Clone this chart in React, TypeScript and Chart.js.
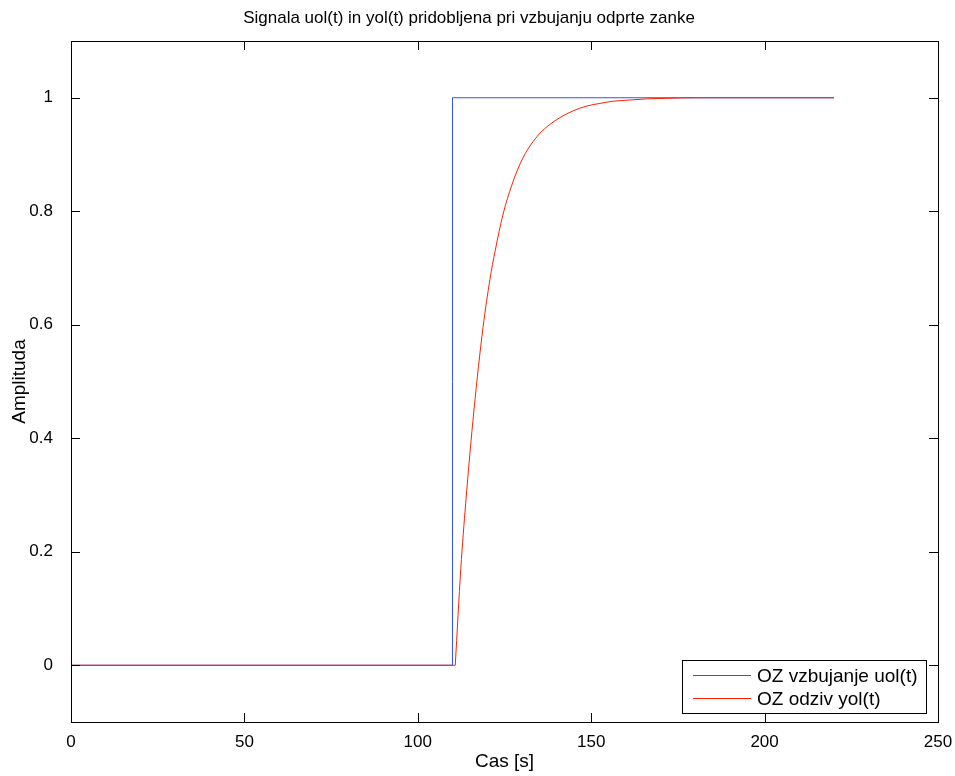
import React, { useEffect, useRef } from "react";
import { Chart, registerables } from "chart.js";

Chart.register(...registerables);

// ---- data ----
const titleText = "Signala uol(t) in yol(t) pridobljena pri vzbujanju odprte zanke";
const xLabel = "Cas [s]";
const yLabel = "Amplituda";

const xTicks = [0, 50, 100, 150, 200, 250];
const yTicks = [0, 0.2, 0.4, 0.6, 0.8, 1];
const xMin = 0, xMax = 250, yMin = -0.1, yMax = 1.1;

// excitation (step)
const uolLabel = "OZ vzbujanje uol(t)";
const uolT = [0, 110, 110, 220];
const uolY = [0, 0, 1, 1];

// response: flat part before delay, then rising curve
const yolLabel = "OZ odziv yol(t)";
const yolFlatT = [0, 110.8];
const yolFlatY = [0, 0];
const yolT = [110.8, 112.4, 113.8, 116.2, 118.8, 120.8, 122.3, 124.6, 127.1, 130.4, 135, 138.1, 141, 144.8, 148.5, 152.5, 156.5, 161.2, 166, 172, 180, 220];
const yolY = [0, 0.17, 0.285, 0.45, 0.595, 0.68, 0.73, 0.795, 0.846, 0.895, 0.936, 0.953, 0.965, 0.977, 0.985, 0.99, 0.994, 0.996, 0.998, 0.999, 1.0, 1.0];

const uolColor = "#3050ff";
const yolColor = "#ff2000";
const FONT = "'Liberation Sans', Arial, Helvetica, sans-serif";

const toXY = (xs: number[], ys: number[]) => xs.map((x, i) => ({ x, y: ys[i] }));

const matlabAxes = {
  id: "matlabAxes",
  afterDraw(chart: any) {
    const { ctx, chartArea, scales } = chart;
    const { left, right, top, bottom } = chartArea;
    const xs = scales.x, ys = scales.y;
    const tl = 9;
    ctx.save();
    ctx.strokeStyle = "#000";
    ctx.lineWidth = 1;
    ctx.beginPath();
    xs.ticks.forEach((t: any) => {
      const px = Math.round(xs.getPixelForValue(t.value)) + 0.5;
      ctx.moveTo(px, bottom); ctx.lineTo(px, bottom - tl);
      ctx.moveTo(px, top); ctx.lineTo(px, top + tl);
    });
    ys.ticks.forEach((t: any) => {
      const py = Math.round(ys.getPixelForValue(t.value)) + 0.5;
      ctx.moveTo(left, py); ctx.lineTo(left + tl, py);
      ctx.moveTo(right, py); ctx.lineTo(right - tl, py);
    });
    ctx.stroke();
    ctx.strokeRect(Math.round(left) + 0.5, Math.round(top) + 0.5, Math.round(right - left), Math.round(bottom - top));

    // legend box (bottom-right inside axes)
    const bw = 244, bh = 53;
    const bx = Math.round(right - 12 - bw), by = Math.round(bottom - 9 - bh);
    ctx.fillStyle = "#fff";
    ctx.fillRect(bx, by, bw, bh);
    ctx.strokeRect(bx + 0.5, by + 0.5, bw, bh);
    const items = [
      { label: uolLabel, color: uolColor },
      { label: yolLabel, color: yolColor },
    ];
    ctx.font = `19px ${FONT}`;
    ctx.textBaseline = "middle";
    ctx.textAlign = "left";
    items.forEach((it, i) => {
      const yy = by + 15 + i * 23 + 0.5;
      ctx.strokeStyle = it.color;
      ctx.beginPath();
      ctx.moveTo(bx + 11, yy);
      ctx.lineTo(bx + 69, yy);
      ctx.stroke();
      ctx.fillStyle = "#000";
      ctx.fillText(it.label, bx + 75, yy + 1);
    });
    ctx.restore();
  },
};

export default function App() {
  const ref = useRef<HTMLCanvasElement>(null);
  useEffect(() => {
    document.body.style.margin = "0";
    const chart = new Chart(ref.current!, {
      type: "line",
      data: {
        datasets: [
          { label: uolLabel, order: 3, data: toXY(uolT, uolY), borderColor: uolColor, borderWidth: 1, pointRadius: 0, tension: 0, fill: false },
          { label: yolLabel, order: 1, data: toXY(yolFlatT, yolFlatY), borderColor: yolColor, borderWidth: 1, pointRadius: 0, tension: 0, fill: false },
          { label: yolLabel + " ", order: 2, data: toXY(yolT, yolY), borderColor: yolColor, borderWidth: 1, pointRadius: 0, cubicInterpolationMode: "monotone", fill: false },
        ],
      },
      options: {
        animation: false,
        responsive: false,
        devicePixelRatio: 1,
        layout: { padding: { left: 0, right: 17, top: 0, bottom: 0 } },
        plugins: {
          legend: { display: false },
          tooltip: { enabled: false },
          title: {
            display: true,
            text: titleText,
            color: "#000",
            font: { family: FONT, size: 17, weight: "normal" },
            padding: { top: 7.8, bottom: 12.8 },
          },
        },
        scales: {
          x: {
            type: "linear",
            min: xMin,
            max: xMax,
            afterBuildTicks: (s: any) => { s.ticks = xTicks.map((v) => ({ value: v })); },
            afterFit: (s: any) => { s.height = 54; s.paddingLeft = 0; s.paddingRight = 0; },
            grid: { display: false, drawTicks: false },
            border: { display: false },
            ticks: { color: "#000", font: { family: FONT, size: 17 }, padding: 10, maxRotation: 0, callback: (v: any) => String(v) },
            title: { display: true, text: xLabel, color: "#000", font: { family: FONT, size: 19 }, padding: { top: 0, bottom: 2.6 } },
          },
          y: {
            type: "linear",
            min: yMin,
            max: yMax,
            afterBuildTicks: (s: any) => { s.ticks = yTicks.map((v) => ({ value: v })); },
            afterFit: (s: any) => { s.width = 71; s.paddingTop = 0; s.paddingBottom = 0; },
            grid: { display: false, drawTicks: false },
            border: { display: false },
            ticks: { color: "#000", font: { family: FONT, size: 17 }, padding: 18, callback: (v: any) => String(Math.round(v * 10) / 10) },
            title: { display: true, text: yLabel, color: "#000", font: { family: FONT, size: 19 }, padding: { top: 8.1, bottom: 0 } },
          },
        },
      },
      plugins: [matlabAxes],
    });
    return () => chart.destroy();
  }, []);
  return (
    <div style={{ position: "absolute", left: 0, top: 0, width: 955, height: 776, background: "#fff" }}>
      <canvas ref={ref} width={955} height={776} style={{ width: 955, height: 776, display: "block" }} />
    </div>
  );
}
